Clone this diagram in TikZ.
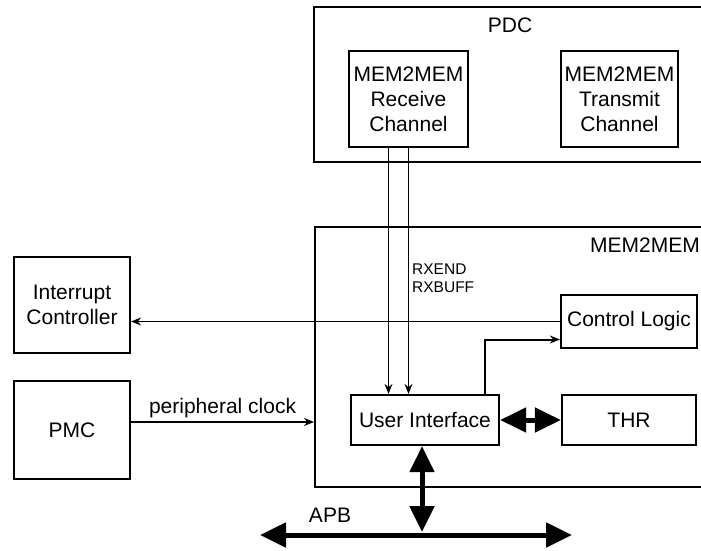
\documentclass[tikz,border=0pt]{standalone}
\usepackage{fontspec}
\setmainfont{Liberation Sans}
\usetikzlibrary{arrows.meta}

\tikzset{
  blk/.style={draw, line width=2.2pt, align=center, inner sep=0pt, font=\fontsize{21}{25}\selectfont},
  frame/.style={draw, line width=2.2pt, anchor=north west, inner sep=0pt},
  lbl/.style={font=\fontsize{21}{25}\selectfont},
  sig/.style={line width=1.3pt, ->},
  bus/.style={line width=5pt, {Triangle[length=26pt,width=24pt]}-{Triangle[length=26pt,width=24pt]}},
}

\begin{document}
\begin{tikzpicture}[x=1pt, y=-1pt, >={Stealth[length=10pt,width=8pt]}]
  \useasboundingbox (0,0) rectangle (701,551);
  % PDC
  \node[frame, minimum width=400pt, minimum height=155pt] (pdc) at (313,6) {};
  \node[lbl] (pdclbl) at (510,25) {PDC};
  \node[blk, minimum width=119pt, minimum height=96pt] (rx) at (408.5,99) {MEM2MEM\\Receive\\Channel};
  \node[blk, minimum width=117pt, minimum height=96pt] (tx) at (619.5,99) {MEM2MEM\\Transmit\\Channel};
  % MEM2MEM
  \node[frame, minimum width=400pt, minimum height=260pt] (mem) at (314,226) {};
  \node[lbl, anchor=east, inner sep=0pt] (memlbl) at (700,245) {MEM2MEM};
  \node[blk, minimum width=136pt, minimum height=53pt] (ctrl) at (629,321.5) {Control Logic};
  \node[blk, minimum width=148pt, minimum height=50pt] (ui) at (425,420) {User Interface};
  \node[blk, minimum width=134pt, minimum height=50pt] (thr) at (629,420) {THR};
  % left side
  \node[blk, minimum width=116pt, minimum height=96pt] (irq) at (72,305) {Interrupt\\Controller};
  \node[blk, minimum width=116pt, minimum height=98pt] (pmc) at (72,430) {PMC};
  % signals
  \draw[sig] ([xshift=-20pt]rx.south) -- ([xshift=-20pt]rx.south |- ui.north);
  \draw[sig] (rx.south) -- (rx.south |- ui.north);
  \node[anchor=north west, align=left, inner sep=0pt, font=\fontsize{15.5}{18}\selectfont] (rxlbl) at (412,264) {RXEND\\RXBUFF};
  \draw[sig] (ctrl.west) -- (ctrl.west -| irq.east);
  \draw[sig] ([yshift=8pt]pmc.east) -- node[lbl, above] {peripheral clock} ([yshift=8pt]pmc.east -| mem.west);
  \draw[line width=2pt, ->] ([xshift=60pt]ui.north) |- ([yshift=-18pt]ctrl.west);
  % buses
  \coordinate (busW) at (260,535);
  \coordinate (busE) at (572,535);
  \coordinate (tap) at (422,532);
  \draw[bus] (busW) -- (busE);
  \draw[bus] (ui.south -| tap) -- (tap);
  \draw[bus] (ui.east) -- (thr.west);
  \node[lbl] (apb) at (330,515) {APB};
\end{tikzpicture}
\end{document}
